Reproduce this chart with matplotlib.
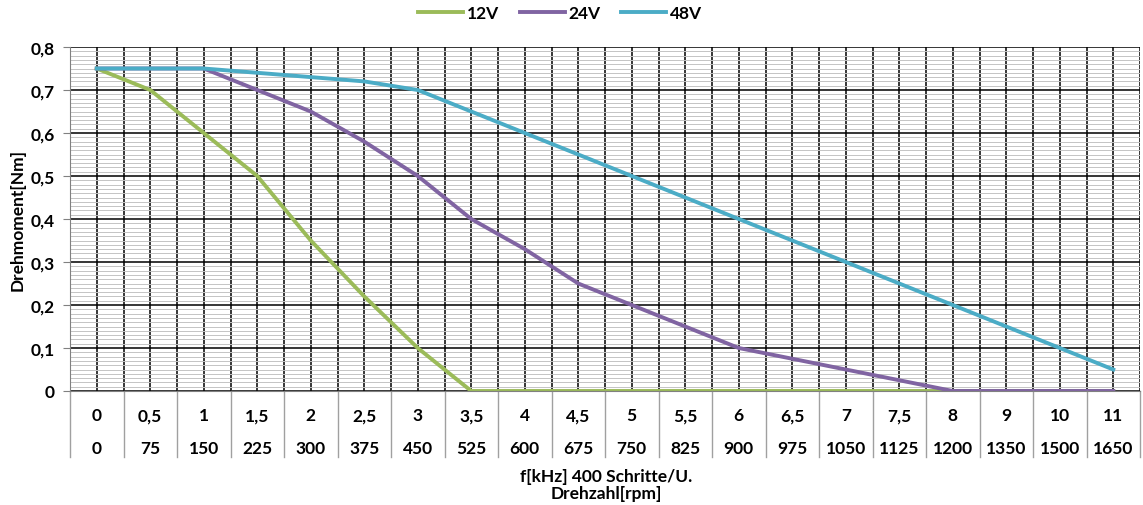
import matplotlib.pyplot as plt
import matplotlib.transforms as mtransforms
import numpy as np

f_khz = ['0', '0,5', '1', '1,5', '2', '2,5', '3', '3,5', '4', '4,5', '5',
         '5,5', '6', '6,5', '7', '7,5', '8', '9', '10', '11']
rpm = ['0', '75', '150', '225', '300', '375', '450', '525', '600', '675', '750',
       '825', '900', '975', '1050', '1125', '1200', '1350', '1500', '1650']

v12 = [0.75, 0.70, 0.60, 0.50, 0.35, 0.22, 0.10, 0.0, 0.0, 0.0, 0.0,
       0.0, 0.0, 0.0, 0.0, 0.0, 0.0, 0.0, 0.0, 0.0]
v24 = [0.75, 0.75, 0.75, 0.70, 0.65, 0.58, 0.50, 0.40, 0.33, 0.25, 0.20,
       0.15, 0.10, 0.075, 0.05, 0.025, 0.0, 0.0, 0.0, 0.0]
v48 = [0.75, 0.75, 0.75, 0.74, 0.73, 0.72, 0.70, 0.65, 0.60, 0.55, 0.50,
       0.45, 0.40, 0.35, 0.30, 0.25, 0.20, 0.15, 0.10, 0.05]

plt.rcParams['font.family'] = ['Lato', 'DejaVu Sans']
plt.rcParams['font.weight'] = 'bold'
fs = 12.5

fig = plt.figure(figsize=(11.43, 5.06), dpi=100)
ax = fig.add_axes([70 / 1143, 114 / 506, 1070 / 1143, 344 / 506])

x = np.arange(len(rpm))
n = len(rpm)
ax.set_xlim(-0.5, n - 0.5)
ax.set_ylim(0, 0.8)

# grid
ax.set_yticks(np.arange(0, 0.81, 0.1))
ax.set_yticks(np.arange(0, 0.801, 0.01), minor=True)
ax.set_yticklabels(['0', '0,1', '0,2', '0,3', '0,4', '0,5', '0,6', '0,7', '0,8'],
                   fontsize=fs, fontweight='bold')
ax.tick_params(axis='y', which='major', length=5, color='#808080', pad=6)
ax.tick_params(axis='y', which='minor', length=0)
ax.set_xticks(np.arange(-0.5, n, 0.5))
ax.tick_params(axis='x', length=0, labelbottom=False)
ax.grid(axis='y', which='minor', color='#c4c4c4', lw=0.7)
ax.grid(axis='y', which='major', color='black', lw=1.1)
ax.grid(axis='x', which='major', color='black', lw=1.1)
ax.set_axisbelow(True)
for s in ['top', 'right']:
    ax.spines[s].set_visible(False)
ax.spines['left'].set_color('#808080')
ax.spines['bottom'].set_color('#808080')

ax.plot(x, v12, color='#9BBB59', lw=2.8, label='12V')
ax.plot(x, v24, color='#8064A2', lw=2.8, label='24V')
ax.plot(x, v48, color='#4BACC6', lw=2.8, label='48V')

# category table below the axis
trans = mtransforms.blended_transform_factory(ax.transData, ax.transAxes)
for i in range(n):
    ax.text(x[i], -0.07, f_khz[i], transform=trans, ha='center', va='center',
            fontsize=fs, fontweight='bold')
    ax.text(x[i], -0.166, rpm[i], transform=trans, ha='center', va='center',
            fontsize=fs, fontweight='bold')
for b in np.arange(-0.5, n, 1.0):
    ax.plot([b, b], [0, -0.192], transform=trans, color='#a0a0a0', lw=1,
            clip_on=False)

fig.text(606 / 1143, 1 - 477 / 506, 'f[kHz] 400 Schritte/U.', ha='center',
         va='center', fontsize=fs, fontweight='bold')
fig.text(606 / 1143, 1 - 494 / 506, 'Drehzahl[rpm]', ha='center',
         va='center', fontsize=fs, fontweight='bold')
fig.text(18 / 1143, 1 - 220 / 506, 'Drehmoment[Nm]', rotation=90, ha='center',
         va='center', fontsize=fs, fontweight='bold')

fig.legend(loc='center', bbox_to_anchor=(560 / 1143, 1 - 14 / 506), ncol=3,
           frameon=False, fontsize=fs, handlelength=2.6, handletextpad=0.2,
           columnspacing=1.2)

fig.savefig('out.png', dpi=100)
